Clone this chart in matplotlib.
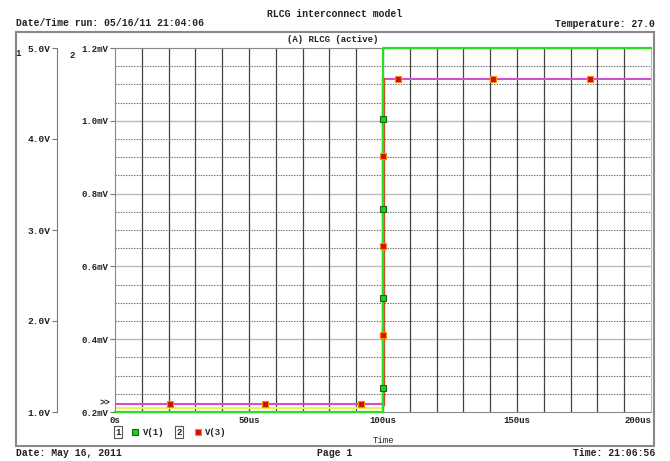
import matplotlib
matplotlib.use('Agg')
import matplotlib.pyplot as plt
from matplotlib.lines import Line2D
from matplotlib.patches import Rectangle
import numpy as np

# ---------------- data ----------------
t_v1 = [0, 100, 100, 200]          # us
v1 = [1.0, 1.0, 5.0, 5.0]          # V (axis 1)
t_v3 = [0, 100, 100, 200]          # us
v3 = [0.222, 0.222, 1.114, 1.114]  # mV (axis 2)
t_aux = [0, 100]
v_aux = [0.211, 0.211]             # mV (yellow trace)

v1_mk_t = [100, 100, 100, 100]
v1_mk_v = [1.26, 2.25, 3.23, 4.22]
v3_mk_t = [20.5, 56.0, 91.8, 100, 100, 100, 105.6, 141.0, 177.2]
v3_mk_v = [0.222, 0.222, 0.222, 0.412, 0.656, 0.903, 1.114, 1.114, 1.114]

x_ticks = [0, 50, 100, 150, 200]
x_labels = ["0s", "50us", "100us", "150us", "200us"]
y1_ticks = [1, 2, 3, 4, 5]
y1_labels = ["1.0V", "2.0V", "3.0V", "4.0V", "5.0V"]
y2_ticks = [0.2, 0.4, 0.6, 0.8, 1.0, 1.2]
y2_labels = ["0.2mV", "0.4mV", "0.6mV", "0.8mV", "1.0mV", "1.2mV"]

# ---------------- layout ----------------
W, H = 670, 461
def fx(x): return x / W
def fy(y): return 1 - y / H

FONT = 'Liberation Mono'
TC = '#222222'
plt.rcParams['font.family'] = [FONT, 'DejaVu Sans Mono']
plt.rcParams['font.weight'] = 'bold'

fig = plt.figure(figsize=(W / 100, H / 100), dpi=100, facecolor='white')

rect = [fx(115), fy(412), (651 - 115) / W, (412 - 48) / H]
ax1 = fig.add_axes(rect)
ax2 = fig.add_axes(rect, sharex=ax1)
ax1.set_zorder(0)
ax2.set_zorder(1)
ax1.patch.set_visible(False)
ax2.patch.set_visible(False)

ax2.set_xlim(0, 200)
ax2.set_ylim(0.2, 1.2)
ax1.set_ylim(1, 5)

# axis 1 (V) spine moved to the left
for s in ['top', 'right', 'bottom']:
    ax1.spines[s].set_visible(False)
ax1.spines['left'].set_position(('outward', (115 - 57) * 0.72))
ax1.spines['left'].set_color('#777777')
ax1.set_yticks(y1_ticks)
ax1.set_yticklabels(y1_labels)
ax1.tick_params(axis='y', direction='out', length=3.5, pad=1, color='#777777',
                labelsize=6.8, labelcolor=TC)
ax1.tick_params(axis='x', bottom=False, labelbottom=False)

# axis 2 (mV)
for s in ['top', 'bottom', 'left']:
    ax2.spines[s].set_color('#888888')
ax2.spines['right'].set_color('#bbbbbb')
ax2.set_yticks(y2_ticks)
ax2.set_yticklabels(y2_labels)
ax2.tick_params(axis='y', direction='out', length=3.5, pad=1, color='#777777',
                labelsize=6.5, labelcolor=TC)
ax2.set_xticks(x_ticks)
ax2.set_xticklabels(x_labels)
ax2.tick_params(axis='x', length=0, pad=3, labelsize=6.5, labelcolor=TC)
xl = ax2.get_xticklabels()
xl[-1].set_ha('right')
xl[-1].set_x(200)
ax2.set_xlabel('Time', fontsize=6.5, color=TC, labelpad=7.5)

# grid
for t in np.arange(10, 200, 10):
    ax2.axvline(t, color='#444444', lw=0.9, zorder=0.5)
for v in np.arange(0.25, 1.2, 0.05):
    if abs(v / 0.2 - round(v / 0.2)) < 1e-6:
        ax2.axhline(v, color='#bbbbbb', lw=1.0, zorder=0.4)
    else:
        ax2.axhline(v, color='#666666', lw=0.8, ls=(0, (1.2, 1.2)), zorder=0.4)

# traces
ax2.plot(t_aux, v_aux, color='#f0f060', lw=1.6, zorder=2)
ax2.plot(t_v3, v3, color='#d050d0', lw=1.5, zorder=3)
ax2.plot(t_v3[1:3], v3[1:3], color='#e04020', lw=2.4, zorder=3.1)
ax2.plot(t_v1, v1, color='#22e022', lw=1.6, zorder=4, transform=ax1.transData,
         clip_on=False)
ax2.plot(v3_mk_t, v3_mk_v, ls='none', marker='s', ms=4, mfc='#cc1100',
         mec='#ff8800', mew=0.8, zorder=5)
ax2.plot(v1_mk_t, v1_mk_v, ls='none', marker='s', ms=4, mfc='#22cc22',
         mec='#116611', mew=0.8, zorder=5, transform=ax1.transData)

# frame
fig.add_artist(Rectangle((fx(16), fy(446)), (654 - 16) / W, (446 - 32) / H,
                         transform=fig.transFigure, fill=False,
                         ec='#888888', lw=1.5))

# header / footer texts
fig.text(fx(335), fy(14), 'RLCG interconnect model', ha='center', va='center',
         fontsize=7, color=TC)
fig.text(fx(16), fy(23), 'Date/Time run: 05/16/11 21:04:06', ha='left',
         va='center', fontsize=7, color=TC)
fig.text(fx(655), fy(24), 'Temperature: 27.0', ha='right', va='center',
         fontsize=7, color=TC)
fig.text(fx(333), fy(39), '(A) RLCG (active)', ha='center', va='center',
         fontsize=6.5, color=TC)
fig.text(fx(16), fy(453), 'Date: May 16, 2011', ha='left', va='center',
         fontsize=7, color=TC)
fig.text(fx(335), fy(453), 'Page 1', ha='center', va='center', fontsize=7,
         color=TC)
fig.text(fx(655), fy(453), 'Time: 21:06:56', ha='right', va='center',
         fontsize=7, color=TC)

# axis markers
fig.text(fx(18), fy(54), '1', ha='center', va='center', fontsize=6.5, color=TC)
fig.text(fx(72), fy(55), '2', ha='center', va='center', fontsize=6.5, color=TC)
fig.text(fx(110), fy(403), '>>', ha='right', va='center', fontsize=6.5,
         color=TC)

# legend
ly = fy(432)
fig.text(fx(118), ly, '1', ha='center', va='center', fontsize=6.5, color=TC,
         bbox=dict(boxstyle='square,pad=0.15', fc='none', ec='#555555', lw=0.8))
fig.add_artist(Line2D([fx(135)], [ly], ls='none', marker='s', ms=4,
                      mfc='#22cc22', mec='#116611', mew=0.8,
                      transform=fig.transFigure))
fig.text(fx(143), ly, 'V(1)', ha='left', va='center', fontsize=6.5, color=TC)
fig.text(fx(179), ly, '2', ha='center', va='center', fontsize=6.5, color=TC,
         bbox=dict(boxstyle='square,pad=0.15', fc='none', ec='#555555', lw=0.8))
fig.add_artist(Line2D([fx(198)], [ly], ls='none', marker='s', ms=4,
                      mfc='#cc1100', mec='#ff8800', mew=0.8,
                      transform=fig.transFigure))
fig.text(fx(205), ly, 'V(3)', ha='left', va='center', fontsize=6.5, color=TC)

fig.savefig('out.png', dpi=100, facecolor='white')
